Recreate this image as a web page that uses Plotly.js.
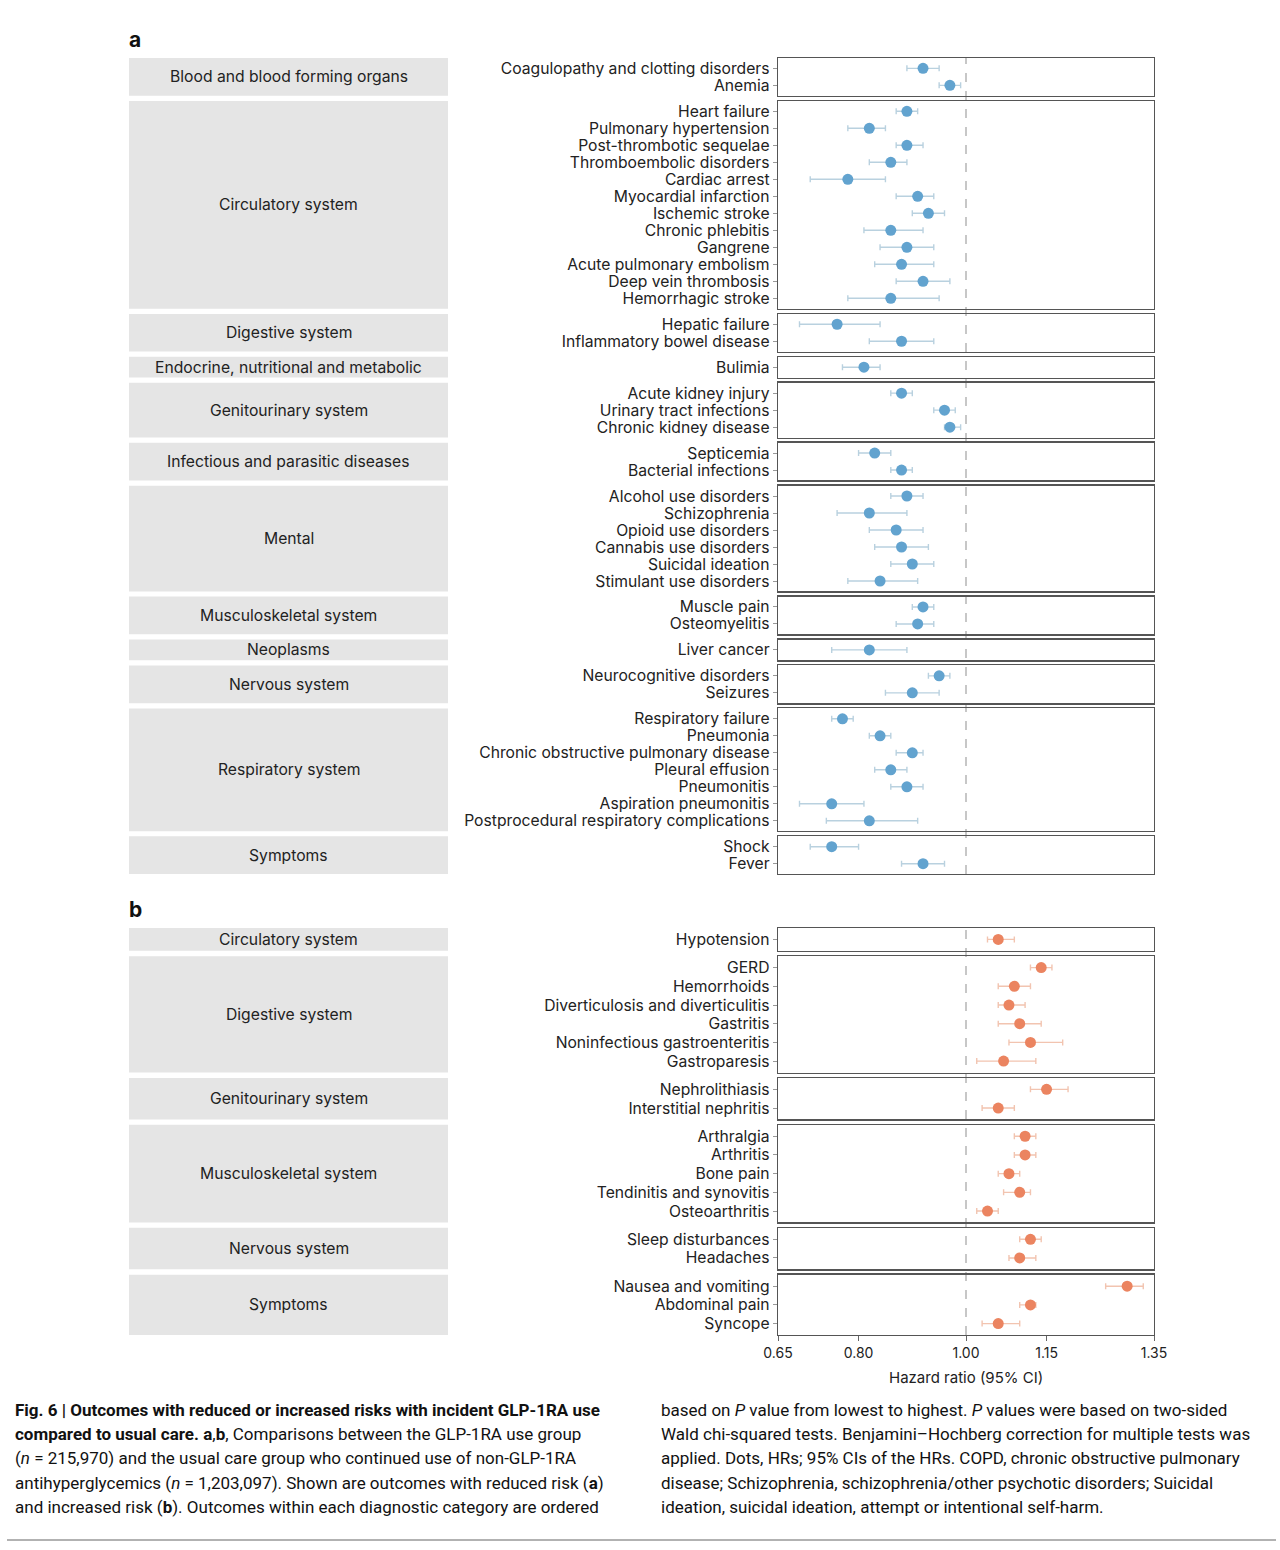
<!DOCTYPE html>
<html><head><meta charset="utf-8">
<script src="https://cdn.plot.ly/plotly-3.0.1.min.js"></script>
<style>body{margin:0;background:#fff}</style>
</head><body><div id="chart" style="width:1280px;height:1550px"></div>
<script>
// ---------- Panel a: reduced risk ----------
const aGroup = [
 "Blood and blood forming organs","Blood and blood forming organs",
 "Circulatory system","Circulatory system","Circulatory system","Circulatory system","Circulatory system","Circulatory system",
 "Circulatory system","Circulatory system","Circulatory system","Circulatory system","Circulatory system","Circulatory system",
 "Digestive system","Digestive system",
 "Endocrine, nutritional and metabolic",
 "Genitourinary system","Genitourinary system","Genitourinary system",
 "Infectious and parasitic diseases","Infectious and parasitic diseases",
 "Mental","Mental","Mental","Mental","Mental","Mental",
 "Musculoskeletal system","Musculoskeletal system",
 "Neoplasms",
 "Nervous system","Nervous system",
 "Respiratory system","Respiratory system","Respiratory system","Respiratory system","Respiratory system","Respiratory system","Respiratory system",
 "Symptoms","Symptoms"];
const aOutcome = [
 "Coagulopathy and clotting disorders","Anemia",
 "Heart failure","Pulmonary hypertension","Post-thrombotic sequelae","Thromboembolic disorders","Cardiac arrest","Myocardial infarction",
 "Ischemic stroke","Chronic phlebitis","Gangrene","Acute pulmonary embolism","Deep vein thrombosis","Hemorrhagic stroke",
 "Hepatic failure","Inflammatory bowel disease",
 "Bulimia",
 "Acute kidney injury","Urinary tract infections","Chronic kidney disease",
 "Septicemia","Bacterial infections",
 "Alcohol use disorders","Schizophrenia","Opioid use disorders","Cannabis use disorders","Suicidal ideation","Stimulant use disorders",
 "Muscle pain","Osteomyelitis",
 "Liver cancer",
 "Neurocognitive disorders","Seizures",
 "Respiratory failure","Pneumonia","Chronic obstructive pulmonary disease","Pleural effusion","Pneumonitis","Aspiration pneumonitis","Postprocedural respiratory complications",
 "Shock","Fever"];
const aHR   = [0.92,0.97, 0.89,0.82,0.89,0.86,0.78,0.91,0.93,0.86,0.89,0.88,0.92,0.86, 0.76,0.88, 0.81, 0.88,0.96,0.97, 0.83,0.88, 0.89,0.82,0.87,0.88,0.90,0.84, 0.92,0.91, 0.82, 0.95,0.90, 0.77,0.84,0.90,0.86,0.89,0.75,0.82, 0.75,0.92];
const aLow  = [0.89,0.95, 0.87,0.78,0.87,0.82,0.71,0.87,0.90,0.81,0.84,0.83,0.87,0.78, 0.69,0.82, 0.77, 0.86,0.94,0.96, 0.80,0.86, 0.86,0.76,0.82,0.83,0.86,0.78, 0.90,0.87, 0.75, 0.93,0.85, 0.75,0.82,0.87,0.83,0.86,0.69,0.74, 0.71,0.88];
const aHigh = [0.95,0.99, 0.91,0.85,0.92,0.89,0.85,0.94,0.96,0.92,0.94,0.94,0.97,0.95, 0.84,0.94, 0.84, 0.90,0.98,0.99, 0.86,0.90, 0.92,0.89,0.92,0.93,0.94,0.91, 0.94,0.94, 0.89, 0.97,0.95, 0.79,0.86,0.92,0.89,0.92,0.81,0.91, 0.80,0.96];

// ---------- Panel b: increased risk ----------
const bGroup = [
 "Circulatory system",
 "Digestive system","Digestive system","Digestive system","Digestive system","Digestive system","Digestive system",
 "Genitourinary system","Genitourinary system",
 "Musculoskeletal system","Musculoskeletal system","Musculoskeletal system","Musculoskeletal system","Musculoskeletal system",
 "Nervous system","Nervous system",
 "Symptoms","Symptoms","Symptoms"];
const bOutcome = [
 "Hypotension",
 "GERD","Hemorrhoids","Diverticulosis and diverticulitis","Gastritis","Noninfectious gastroenteritis","Gastroparesis",
 "Nephrolithiasis","Interstitial nephritis",
 "Arthralgia","Arthritis","Bone pain","Tendinitis and synovitis","Osteoarthritis",
 "Sleep disturbances","Headaches",
 "Nausea and vomiting","Abdominal pain","Syncope"];
const bHR   = [1.06, 1.14,1.09,1.08,1.10,1.12,1.07, 1.15,1.06, 1.11,1.11,1.08,1.10,1.04, 1.12,1.10, 1.30,1.12,1.06];
const bLow  = [1.04, 1.12,1.06,1.06,1.06,1.08,1.02, 1.12,1.03, 1.09,1.09,1.06,1.07,1.02, 1.10,1.08, 1.26,1.10,1.03];
const bHigh = [1.09, 1.16,1.12,1.11,1.14,1.18,1.13, 1.19,1.09, 1.13,1.13,1.10,1.12,1.06, 1.14,1.13, 1.33,1.13,1.10];

const xTickVals = [0.65, 0.80, 1.00, 1.15, 1.35];
const xTickText = ["0.65","0.80","1.00","1.15","1.35"];
const xRange = [0.65, 1.35];
const refLine = 1.00;

const captionLeft = [
 "<b>Fig. 6 | Outcomes with reduced or increased risks with incident GLP-1RA use</b>",
 "<b>compared to usual care. a</b>,<b>b</b>, Comparisons between the GLP-1RA use group",
 "(<i>n</i> = 215,970) and the usual care group who continued use of non-GLP-1RA",
 "antihyperglycemics (<i>n</i> = 1,203,097). Shown are outcomes with reduced risk (<b>a</b>)",
 "and increased risk (<b>b</b>). Outcomes within each diagnostic category are ordered"];
const captionRight = [
 "based on <i>P</i> value from lowest to highest. <i>P</i> values were based on two-sided",
 "Wald chi-squared tests. Benjamini–Hochberg correction for multiple tests was",
 "applied. Dots, HRs; 95% CIs of the HRs. COPD, chronic obstructive pulmonary",
 "disease; Schizophrenia, schizophrenia/other psychotic disorders; Suicidal",
 "ideation, suicidal ideation, attempt or intentional self-harm."];

// ---------- Build ----------
const W = 1280, H = 1550;
const FONT = "Inter, Roboto, sans-serif";
const CAPFONT = "Roboto, sans-serif";
const py = p => 1 - p / H;
const px = p => p / W;
const xDom = [px(778), px(1154)];

const data = [], shapes = [], annotations = [];
const layout = {
  width: W, height: H, margin: {l:0, r:0, t:0, b:0},
  paper_bgcolor: "#fff", plot_bgcolor: "rgba(0,0,0,0)",
  showlegend: false, shapes, annotations
};
let axIdx = 0;

function groupRows(groups) {
  const order = [], map = {};
  groups.forEach((g, i) => { if (!(g in map)) { map[g] = []; order.push(g); } map[g].push(i); });
  return order.map(g => ({name: g, idx: map[g]}));
}

function buildPanel(opt) {
  const grps = groupRows(opt.group);
  let top = opt.top;
  const firstIdx = axIdx + 1;
  let lastBottom = top;
  grps.forEach((g, gi) => {
    axIdx++;
    const n = g.idx.length;
    const bottom = top + (n + 0.22) * opt.rowH;
    const xs = axIdx === 1 ? "xaxis" : "xaxis" + axIdx;
    const ys = axIdx === 1 ? "yaxis" : "yaxis" + axIdx;
    const isLast = opt.showX && gi === grps.length - 1;
    const cats = g.idx.map(i => opt.outcome[i]);
    layout[xs] = {
      domain: xDom, range: xRange, anchor: "y" + axIdx,
      showline: true, mirror: true, linecolor: "#555", linewidth: 1.3,
      showgrid: false, zeroline: false,
      ticks: isLast ? "outside" : "", ticklen: 5, tickcolor: "#666",
      tickmode: "array", tickvals: xTickVals, ticktext: xTickText, showticklabels: isLast,
      tickfont: {family: FONT, size: 14, color: "#222"}, fixedrange: true
    };
    layout[ys] = {
      domain: [py(bottom), py(top)], anchor: "x" + axIdx,
      type: "category", categoryorder: "array", categoryarray: cats,
      tickmode: "array", tickvals: cats, ticktext: cats,
      range: [n - 1 + 0.61, -0.61],
      showline: true, mirror: true, linecolor: "#555", linewidth: 1.3,
      showgrid: false, zeroline: false,
      ticks: "outside", ticklen: 4, tickcolor: "#999",
      tickfont: {family: FONT, size: 15.7, color: "#222"}, fixedrange: true
    };
    data.push({
      type: "scatter", mode: "markers",
      x: g.idx.map(i => opt.hr[i]), y: cats,
      xaxis: "x" + axIdx, yaxis: "y" + axIdx,
      marker: {size: 11, color: opt.color},
      error_x: {type: "data", symmetric: false,
        array: g.idx.map(i => +(opt.hi[i] - opt.hr[i]).toFixed(3)),
        arrayminus: g.idx.map(i => +(opt.hr[i] - opt.lo[i]).toFixed(3)),
        color: opt.errColor, thickness: 1.4, width: 3},
      hoverinfo: "x+y"
    });
    shapes.push({type: "rect", xref: "paper", yref: "paper", layer: "below",
      x0: px(129), x1: px(448), y0: py(bottom), y1: py(top),
      fillcolor: "#e5e5e5", line: {width: 0}});
    annotations.push({xref: "paper", yref: "paper", x: px(288.5), y: py((top + bottom) / 2),
      xanchor: "center", yanchor: "middle", showarrow: false, text: g.name,
      font: {family: FONT, size: 15.7, color: "#222"}});
    lastBottom = bottom;
    top = bottom + opt.gap;
  });
  shapes.push({type: "line", xref: "x" + firstIdx, yref: "paper", layer: "below",
    x0: refLine, x1: refLine, y0: py(lastBottom), y1: py(opt.top),
    line: {color: "#aaa", width: 1.3, dash: "dash"}});
  annotations.push({xref: "paper", yref: "paper", x: px(127), y: py(opt.top - 18),
    xanchor: "left", yanchor: "middle", showarrow: false, text: "<b>" + opt.label + "</b>",
    font: {family: FONT, size: 21, color: "#111"}});
  return lastBottom;
}

buildPanel({group: aGroup, outcome: aOutcome, hr: aHR, lo: aLow, hi: aHigh,
  top: 58, rowH: 17.0, gap: 5.2, color: "#62a3cf", errColor: "#b9d1df", showX: false, label: "a"});
buildPanel({group: bGroup, outcome: bOutcome, hr: bHR, lo: bLow, hi: bHigh,
  top: 928, rowH: 18.7, gap: 5.4, color: "#eb8460", errColor: "#f2c4b0", showX: true, label: "b"});

annotations.push({xref: "paper", yref: "paper", x: px(966), y: py(1377),
  xanchor: "center", yanchor: "middle", showarrow: false, text: "Hazard ratio (95% CI)",
  font: {family: FONT, size: 15, color: "#222"}});

captionLeft.forEach((t, i) => annotations.push({xref: "paper", yref: "paper",
  x: px(13), y: py(1410 + i * 24.2), xanchor: "left", yanchor: "middle", showarrow: false,
  text: t, font: {family: CAPFONT, size: 17, color: "#111"}}));
captionRight.forEach((t, i) => annotations.push({xref: "paper", yref: "paper",
  x: px(659), y: py(1410 + i * 24.2), xanchor: "left", yanchor: "middle", showarrow: false,
  text: t, font: {family: CAPFONT, size: 17, color: "#111"}}));

shapes.push({type: "line", xref: "paper", yref: "paper", x0: px(7), x1: px(1276),
  y0: py(1540), y1: py(1540), line: {color: "#999", width: 1.5}});

Plotly.newPlot("chart", data, layout, {displayModeBar: false, staticPlot: true});
</script></body></html>
